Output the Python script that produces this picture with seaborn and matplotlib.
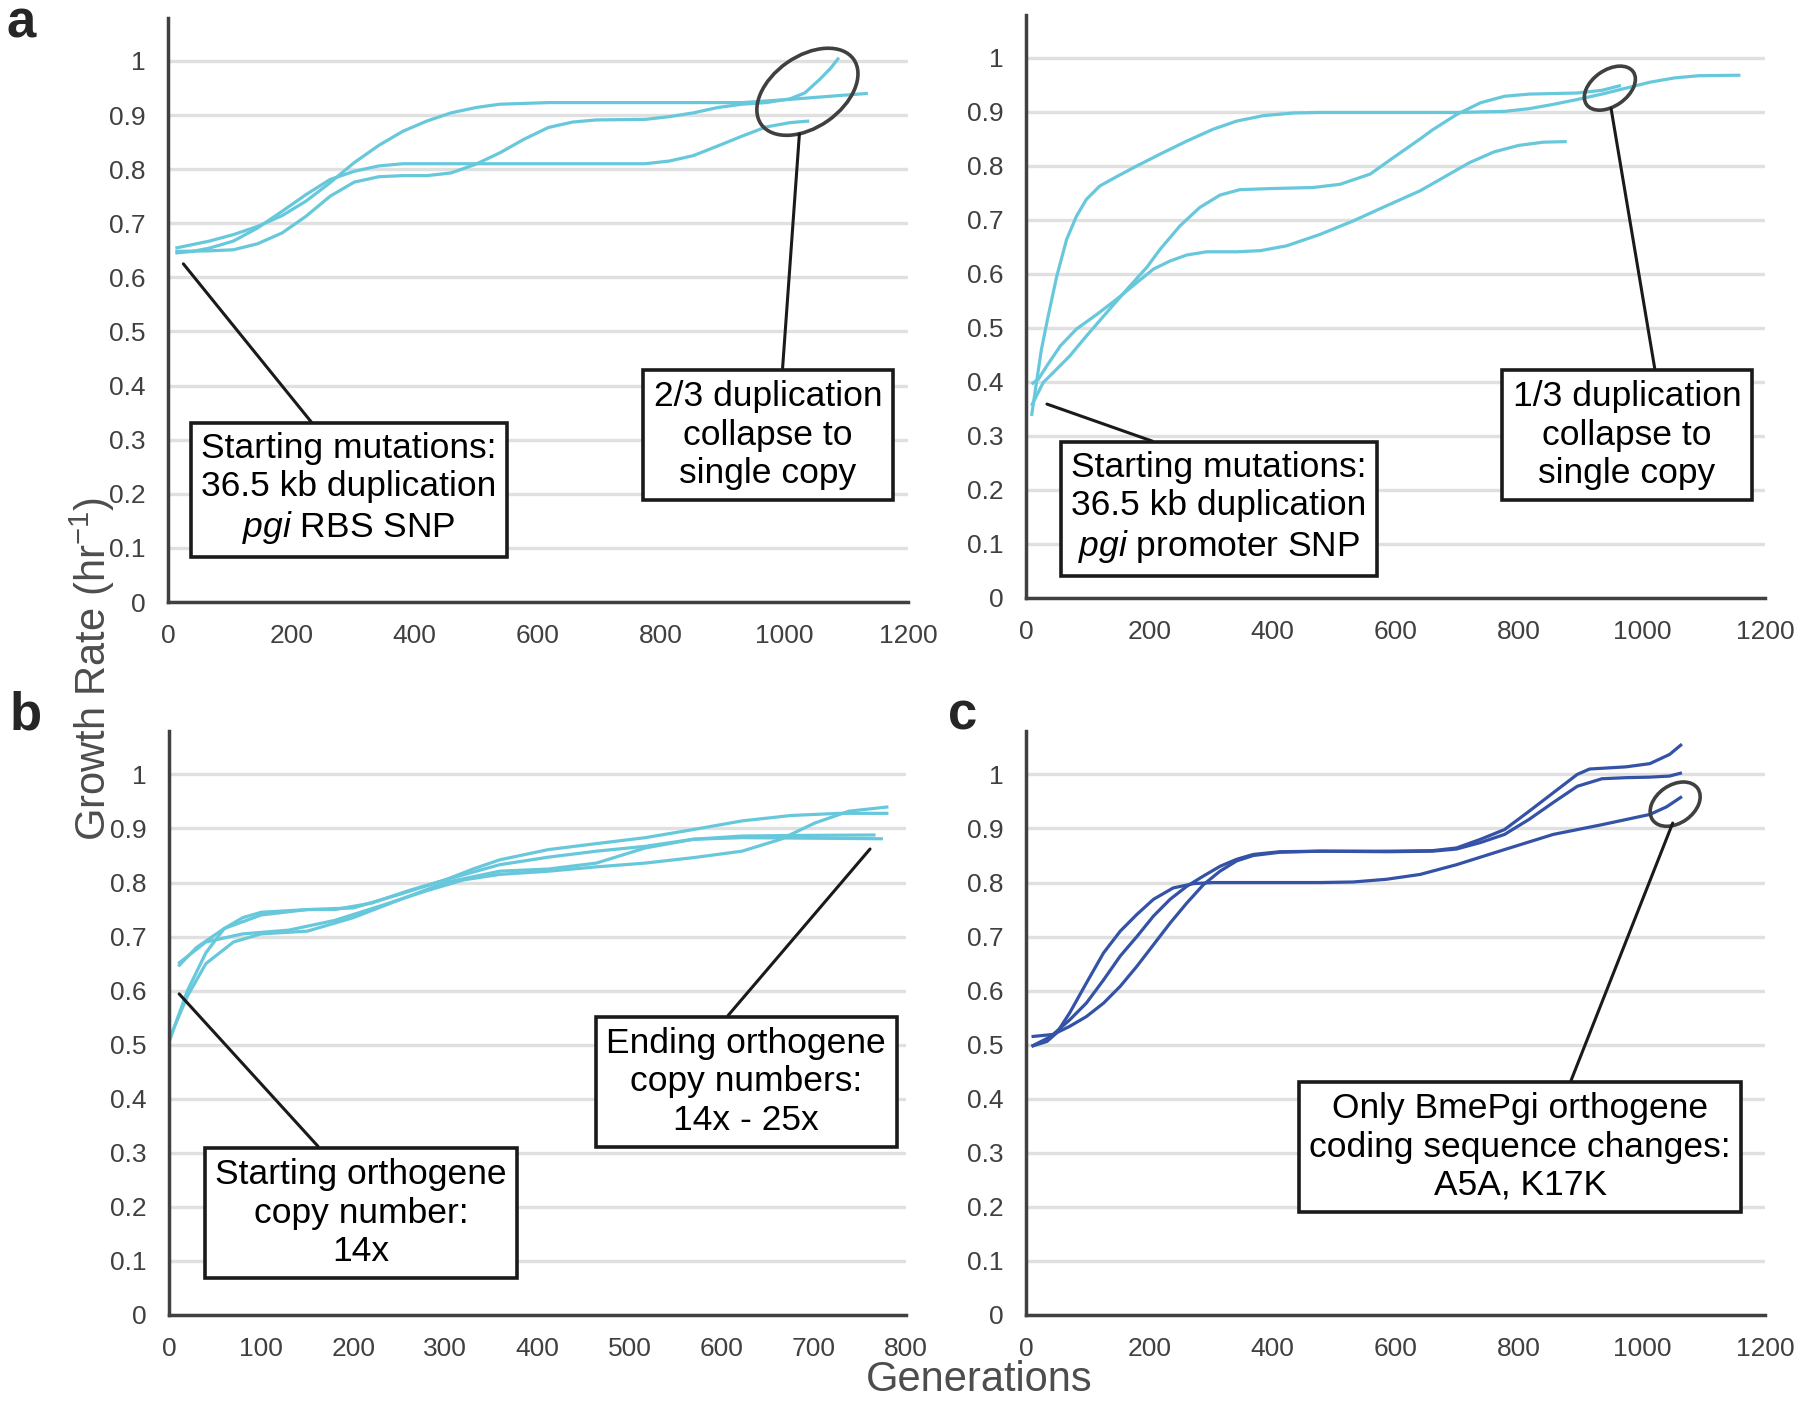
import matplotlib
matplotlib.use("Agg")
import matplotlib.pyplot as plt
import matplotlib.transforms as mtransforms
from matplotlib.patches import Ellipse
import pandas as pd
import seaborn as sns

# ---- panel a (left): pgi RBS SNP lineages ----
a1_gen = [12, 67, 106, 145, 185, 224, 263, 302, 342, 381, 420, 459, 500, 538, 617, 774, 931, 1009, 1088, 1135]
a1_rate = [0.654, 0.667, 0.679, 0.694, 0.714, 0.741, 0.775, 0.812, 0.844, 0.870, 0.889, 0.904, 0.914, 0.920, 0.923, 0.923, 0.923, 0.929, 0.936, 0.940]
a2_gen = [12, 67, 106, 145, 185, 224, 263, 302, 342, 381, 420, 459, 499, 538, 577, 617, 656, 695, 774, 813, 852, 892, 931, 970, 1009, 1033, 1057, 1075, 1088]
a2_rate = [0.648, 0.649, 0.651, 0.662, 0.682, 0.713, 0.750, 0.776, 0.786, 0.788, 0.788, 0.793, 0.809, 0.830, 0.855, 0.877, 0.887, 0.891, 0.892, 0.897, 0.904, 0.914, 0.920, 0.923, 0.930, 0.941, 0.966, 0.987, 1.006]
a3_gen = [12, 40, 67, 106, 145, 185, 224, 263, 302, 342, 381, 459, 774, 813, 852, 892, 931, 970, 1009, 1040]
a3_rate = [0.645, 0.648, 0.654, 0.667, 0.691, 0.722, 0.753, 0.781, 0.796, 0.806, 0.810, 0.810, 0.810, 0.815, 0.825, 0.843, 0.861, 0.878, 0.886, 0.889]

# ---- panel a (right): pgi promoter SNP lineages ----
p1_gen = [9, 17, 25, 36, 50, 66, 82, 98, 120, 147, 180, 218, 261, 304, 342, 385, 434, 477, 699, 777, 817, 856, 895, 935, 974, 1013, 1053, 1092, 1160]
p1_rate = [0.337, 0.399, 0.460, 0.522, 0.596, 0.664, 0.707, 0.738, 0.763, 0.780, 0.800, 0.822, 0.846, 0.868, 0.883, 0.893, 0.898, 0.899, 0.899, 0.901, 0.906, 0.914, 0.923, 0.933, 0.944, 0.955, 0.963, 0.967, 0.968]
p2_gen = [9, 28, 44, 71, 98, 136, 169, 196, 218, 250, 282, 315, 347, 396, 466, 510, 559, 596, 640, 659, 699, 738, 777, 817, 895, 935, 966]
p2_rate = [0.356, 0.399, 0.417, 0.448, 0.485, 0.535, 0.578, 0.612, 0.646, 0.689, 0.723, 0.746, 0.756, 0.758, 0.760, 0.766, 0.785, 0.815, 0.850, 0.866, 0.895, 0.917, 0.929, 0.933, 0.935, 0.940, 0.949]
p3_gen = [9, 20, 34, 56, 82, 115, 147, 180, 207, 234, 261, 293, 342, 380, 423, 477, 531, 585, 640, 680, 720, 760, 800, 840, 878]
p3_rate = [0.396, 0.405, 0.430, 0.467, 0.498, 0.525, 0.553, 0.584, 0.609, 0.624, 0.635, 0.641, 0.641, 0.643, 0.652, 0.673, 0.698, 0.726, 0.754, 0.780, 0.806, 0.826, 0.838, 0.844, 0.845]

# ---- panel b: orthogene lineages ----
b1_gen = [10, 30, 60, 100, 150, 180, 220, 260, 300, 330, 359, 412, 464, 517, 569, 622, 675, 727, 781]
b1_rate = [0.645, 0.680, 0.715, 0.740, 0.750, 0.750, 0.762, 0.785, 0.805, 0.825, 0.842, 0.861, 0.872, 0.883, 0.898, 0.914, 0.924, 0.928, 0.928]
b2_gen = [10, 40, 80, 130, 180, 230, 280, 320, 359, 412, 464, 517, 569, 622, 664, 701, 738, 781]
b2_rate = [0.650, 0.690, 0.705, 0.712, 0.730, 0.757, 0.785, 0.805, 0.815, 0.821, 0.829, 0.836, 0.846, 0.858, 0.880, 0.910, 0.932, 0.940]
b3_gen = [0, 20, 40, 60, 80, 100, 150, 200, 250, 300, 359, 412, 464, 517, 569, 622, 675, 767]
b3_rate = [0.505, 0.600, 0.670, 0.715, 0.735, 0.745, 0.750, 0.753, 0.778, 0.805, 0.833, 0.847, 0.858, 0.867, 0.880, 0.886, 0.887, 0.888]
b4_gen = [0, 20, 40, 70, 100, 150, 200, 250, 300, 359, 412, 464, 517, 569, 622, 775]
b4_rate = [0.510, 0.590, 0.650, 0.690, 0.705, 0.710, 0.735, 0.768, 0.800, 0.821, 0.825, 0.836, 0.864, 0.880, 0.883, 0.881]

# ---- panel c: BmePgi lineages ----
c1_gen = [9, 34, 50, 71, 98, 126, 153, 180, 207, 239, 272, 304, 477, 531, 585, 640, 699, 777, 856, 935, 1013, 1040, 1065]
c1_rate = [0.497, 0.506, 0.522, 0.559, 0.614, 0.670, 0.710, 0.741, 0.769, 0.790, 0.798, 0.800, 0.800, 0.801, 0.806, 0.815, 0.833, 0.861, 0.889, 0.907, 0.926, 0.940, 0.959]
c2_gen = [9, 40, 71, 98, 126, 153, 180, 207, 234, 261, 288, 315, 342, 369, 412, 477, 587, 660, 699, 738, 777, 817, 856, 895, 915, 974, 1013, 1045, 1065]
c2_rate = [0.497, 0.515, 0.546, 0.577, 0.620, 0.664, 0.700, 0.738, 0.769, 0.793, 0.812, 0.830, 0.843, 0.852, 0.857, 0.858, 0.858, 0.859, 0.864, 0.880, 0.898, 0.932, 0.966, 1.000, 1.010, 1.014, 1.020, 1.037, 1.056]
c3_gen = [9, 44, 71, 98, 126, 153, 180, 207, 234, 261, 288, 315, 342, 369, 412, 477, 587, 660, 699, 738, 777, 817, 856, 895, 935, 974, 1013, 1045, 1065]
c3_rate = [0.515, 0.519, 0.534, 0.552, 0.577, 0.608, 0.645, 0.685, 0.725, 0.762, 0.796, 0.821, 0.840, 0.850, 0.856, 0.858, 0.857, 0.858, 0.862, 0.874, 0.889, 0.917, 0.948, 0.978, 0.992, 0.994, 0.995, 0.997, 1.003]

y_ticks = [0, 0.1, 0.2, 0.3, 0.4, 0.5, 0.6, 0.7, 0.8, 0.9, 1]
y_ticklabels = ["0", "0.1", "0.2", "0.3", "0.4", "0.5", "0.6", "0.7", "0.8", "0.9", "1"]

CYAN = "#67c8dc"
BLUE = "#3452a6"
DARK = "#404040"


def to_frame(runs):
    rows = []
    for i, (g, r) in enumerate(runs):
        for gg, rr in zip(g, r):
            rows.append({"gen": gg, "rate": rr, "run": i})
    return pd.DataFrame(rows)


sns.set_style("white")
plt.rcParams["font.family"] = ["Liberation Sans", "DejaVu Sans"]
plt.rcParams["mathtext.fontset"] = "custom"
plt.rcParams["mathtext.rm"] = "Liberation Sans"
plt.rcParams["mathtext.it"] = "Liberation Sans:italic"

W, H = 1800, 1401
fig = plt.figure(figsize=(18, 14.01), dpi=100)


def px(x, y):
    return (x / W, 1 - y / H)


def style_axis(ax, xmax, xstep):
    ax.set_xlim(0, xmax)
    ax.set_ylim(0, 1.08)
    ax.set_xticks(range(0, xmax + 1, xstep))
    ax.set_yticks(y_ticks)
    ax.set_yticklabels(y_ticklabels)
    ax.set_xlabel("")
    ax.set_ylabel("")
    for s in ["top", "right"]:
        ax.spines[s].set_visible(False)
    for s in ["left", "bottom"]:
        ax.spines[s].set_linewidth(2.5)
        ax.spines[s].set_color(DARK)
    ax.tick_params(direction="out", length=11, width=2.2, color=DARK,
                   labelsize=19, labelcolor=DARK, pad=5)
    ax.yaxis.grid(True, color="#e0e0e0", lw=2.4)
    ax.xaxis.grid(False)
    ax.set_axisbelow(True)


def draw(ax, runs, color):
    df = to_frame(runs)
    sns.lineplot(data=df, x="gen", y="rate", units="run", estimator=None,
                 sort=False, color=color, lw=2.3, legend=False, ax=ax,
                 solid_joinstyle="round", solid_capstyle="butt")


def box(ax, text, center, xy, relx):
    ax.annotate(text, xy=xy, xycoords="data", xytext=px(*center),
                textcoords="figure fraction", ha="center", va="center",
                fontsize=25.5, color="black", linespacing=1.2,
                bbox=dict(boxstyle="square,pad=0.3", fc="white", ec="#1a1a1a", lw=2.6),
                arrowprops=dict(arrowstyle="-", color="#1a1a1a", lw=2.2,
                                shrinkA=0, shrinkB=0, relpos=(relx, 1.0)),
                annotation_clip=False, zorder=5)


def ring(ax, cx, cy, w, h, angle):
    tr = fig.dpi_scale_trans + mtransforms.ScaledTranslation(cx, cy, ax.transData)
    e = Ellipse((0, 0), w, h, angle=angle, transform=tr, fill=False,
                ec=DARK, lw=2.6, clip_on=False, zorder=4)
    ax.add_patch(e)


ax_a1 = fig.add_axes([0.0933, 0.5703, 0.4111, 0.4171])
ax_a2 = fig.add_axes([0.5700, 0.5732, 0.4106, 0.4163])
ax_b = fig.add_axes([0.0939, 0.0614, 0.4094, 0.4167])
ax_c = fig.add_axes([0.5700, 0.0614, 0.4106, 0.4167])

draw(ax_a1, [(a1_gen, a1_rate), (a2_gen, a2_rate), (a3_gen, a3_rate)], CYAN)
draw(ax_a2, [(p1_gen, p1_rate), (p2_gen, p2_rate), (p3_gen, p3_rate)], CYAN)
draw(ax_b, [(b1_gen, b1_rate), (b2_gen, b2_rate), (b3_gen, b3_rate), (b4_gen, b4_rate)], CYAN)
draw(ax_c, [(c1_gen, c1_rate), (c2_gen, c2_rate), (c3_gen, c3_rate)], BLUE)

style_axis(ax_a1, 1200, 200)
style_axis(ax_a2, 1200, 200)
style_axis(ax_b, 800, 100)
style_axis(ax_c, 1200, 200)

# ellipses around the collapse events
ring(ax_a1, 1037, 0.943, 1.13, 0.71, 35)
ring(ax_a2, 948, 0.944, 0.57, 0.36, 35)
ring(ax_c, 1054, 0.945, 0.55, 0.38, 35)

# callout boxes
box(ax_a1, "Starting mutations:\n36.5 kb duplication\n$\\it{pgi}$ RBS SNP",
    (349, 489), (25, 0.625), 0.40)
box(ax_a1, "2/3 duplication\ncollapse to\nsingle copy", (768, 435), (1024, 0.865), 0.56)
box(ax_a2, "Starting mutations:\n36.5 kb duplication\n$\\it{pgi}$ promoter SNP",
    (1219, 508), (34, 0.359), 0.37)
box(ax_a2, "1/3 duplication\ncollapse to\nsingle copy", (1627, 435), (950, 0.906), 0.63)
box(ax_b, "Starting orthogene\ncopy number:\n14x", (361, 1213), (11, 0.594), 0.39)
box(ax_b, "Ending orthogene\ncopy numbers:\n14x - 25x", (746, 1082), (761, 0.862), 0.40)
box(ax_c, "Only BmePgi orthogene\ncoding sequence changes:\nA5A, K17K",
    (1520, 1147), (1050, 0.910), 0.61)

# panel letters and shared axis labels
fig.text(*px(7, 37), "a", fontsize=38, fontweight="bold", ha="left", va="baseline")
fig.text(*px(10, 730), "b", fontsize=38, fontweight="bold", ha="left", va="baseline")
fig.text(*px(948, 730), "c", fontsize=38, fontweight="bold", ha="left", va="baseline")
fig.text(*px(92, 669), "Growth Rate (hr$^{-1}$)", fontsize=30, color="#4d4d4d",
         rotation=90, ha="center", va="center")
fig.text(*px(979, 1380), "Generations", fontsize=30, color="#4d4d4d",
         ha="center", va="center")

fig.savefig("out.png", dpi=100)
